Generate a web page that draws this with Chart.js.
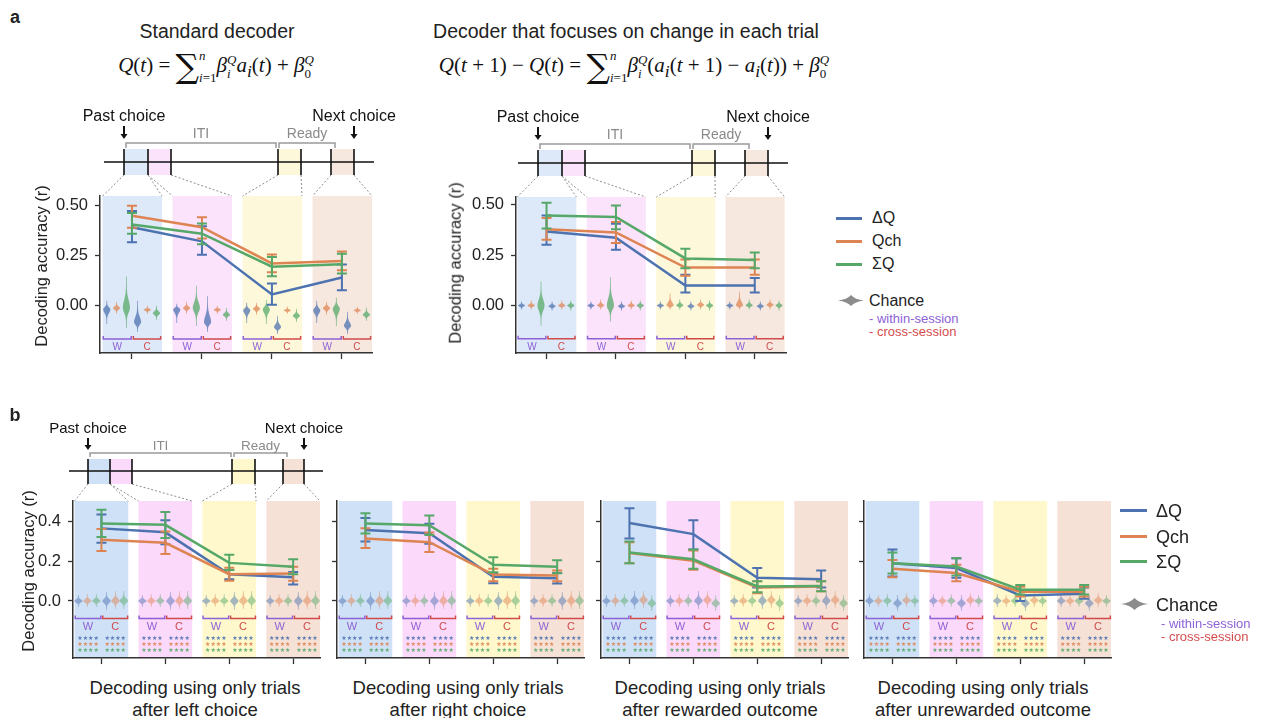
<!DOCTYPE html>
<html>
<head>
<meta charset="utf-8">
<script src="https://cdn.jsdelivr.net/npm/chart.js@4.4.1/dist/chart.umd.min.js"></script>
<style>
body{margin:0;background:#fff;width:1262px;height:718px;position:relative;overflow:hidden;font-family:"Liberation Sans",Arial,sans-serif;color:#222}
canvas{position:absolute}
.t{position:absolute;white-space:nowrap;line-height:1;transform:translate(-50%,-50%)}
.l{position:absolute;white-space:nowrap;line-height:1;transform:translate(0,-50%)}
.yt{position:absolute;white-space:nowrap;line-height:1;font-size:16.5px;transform:translate(-50%,-50%) rotate(-90deg)}
.eq{position:absolute;white-space:nowrap;transform:translate(-50%,-50%);font-family:"Liberation Serif","DejaVu Serif",serif;font-size:21px;line-height:46px;color:#111}
.eq .sig{font-family:"DejaVu Serif",serif;font-size:33px;vertical-align:-6px;font-style:normal}
.eq .lim{display:inline-block;vertical-align:middle;font-size:13px;line-height:22px;text-align:left}
.eq .ss{display:inline-block;vertical-align:middle;font-size:13px;line-height:14px;text-align:left}
.eq .lim span,.eq .ss span{display:block}
.ll{position:absolute;height:3px}
</style>
</head>
<body>
<canvas id="cStd" width="400" height="270" style="left:0;top:100px"></canvas>
<canvas id="cChg" width="400" height="270" style="left:420px;top:100px"></canvas>
<canvas id="cLeft" width="345" height="275" style="left:0;top:400px"></canvas>
<canvas id="cRight" width="262" height="275" style="left:330px;top:400px"></canvas>
<canvas id="cRew" width="262" height="275" style="left:594px;top:400px"></canvas>
<canvas id="cUnr" width="262" height="275" style="left:857px;top:400px"></canvas>

<div class="t" style="left:15px;top:17px;font-weight:bold;font-size:18px">a</div>
<div class="t" style="left:15px;top:415px;font-weight:bold;font-size:18px">b</div>
<div class="t" style="left:217px;top:32px;font-size:19.5px">Standard decoder</div>
<div class="t" style="left:626px;top:32px;font-size:19.5px">Decoder that focuses on change in each trial</div>

<div class="eq" style="left:216px;top:68px"><i>Q</i>(<i>t</i>) = <span class="sig">∑</span><span class="lim"><span><i>n</i></span><span><i>i</i>=1</span></span><i>β</i><span class="ss"><span><i>Q</i></span><span><i>i</i></span></span><i>a<sub>i</sub></i>(<i>t</i>) + <i>β</i><span class="ss"><span><i>Q</i></span><span>0</span></span></div>
<div class="eq" style="left:634px;top:68px"><i>Q</i>(<i>t</i> + 1) − <i>Q</i>(<i>t</i>) = <span class="sig">∑</span><span class="lim"><span><i>n</i></span><span><i>i</i>=1</span></span><i>β</i><span class="ss"><span><i>Q</i></span><span><i>i</i></span></span>(<i>a<sub>i</sub></i>(<i>t</i> + 1) − <i>a<sub>i</sub></i>(<i>t</i>)) + <i>β</i><span class="ss"><span><i>Q</i></span><span>0</span></span></div>

<div class="yt" style="left:41px;top:266px">Decoding accuracy (r)</div>
<div class="yt" style="left:455px;top:263px">Decoding accuracy (r)</div>
<div class="yt" style="left:28px;top:571px">Decoding accuracy (r)</div>

<div class="t" style="left:195px;top:688px;font-size:18.5px">Decoding using only trials</div>
<div class="t" style="left:195px;top:710px;font-size:18.5px">after left choice</div>
<div class="t" style="left:458px;top:688px;font-size:18.5px">Decoding using only trials</div>
<div class="t" style="left:458px;top:710px;font-size:18.5px">after right choice</div>
<div class="t" style="left:720px;top:688px;font-size:18.5px">Decoding using only trials</div>
<div class="t" style="left:720px;top:710px;font-size:18.5px">after rewarded outcome</div>
<div class="t" style="left:983px;top:688px;font-size:18.5px">Decoding using only trials</div>
<div class="t" style="left:983px;top:710px;font-size:18.5px">after unrewarded outcome</div>

<!-- legend a -->
<div class="ll" style="left:836px;top:217px;width:26px;background:#4c72b0"></div>
<div class="l" style="left:872px;top:218px;font-size:16px">ΔQ</div>
<div class="ll" style="left:836px;top:240px;width:26px;background:#dd8452"></div>
<div class="l" style="left:872px;top:241px;font-size:16px">Qch</div>
<div class="ll" style="left:836px;top:263px;width:26px;background:#55a868"></div>
<div class="l" style="left:872px;top:264px;font-size:16px">ΣQ</div>
<svg style="position:absolute;left:838px;top:295px" width="26" height="11"><path d="M0,5.5 Q9,4.5 13,0 Q17,4.5 26,5.5 Q17,6.5 13,11 Q9,6.5 0,5.5Z" fill="#8c8c8c"/></svg>
<div class="l" style="left:869px;top:301px;font-size:16px">Chance</div>
<div class="l" style="left:869px;top:318px;font-size:13px;color:#8d62d6">- within-session</div>
<div class="l" style="left:869px;top:331px;font-size:13px;color:#d44c4c">- cross-session</div>

<!-- legend b -->
<div class="ll" style="left:1120px;top:509px;width:27px;background:#4c72b0"></div>
<div class="l" style="left:1156px;top:511px;font-size:18px">ΔQ</div>
<div class="ll" style="left:1120px;top:535px;width:27px;background:#dd8452"></div>
<div class="l" style="left:1156px;top:537px;font-size:18px">Qch</div>
<div class="ll" style="left:1120px;top:560px;width:27px;background:#55a868"></div>
<div class="l" style="left:1156px;top:562px;font-size:18px">ΣQ</div>
<svg style="position:absolute;left:1121px;top:598px" width="27" height="12"><path d="M0,6 Q9,5 13.5,0 Q18,5 27,6 Q18,7 13.5,12 Q9,7 0,6Z" fill="#8c8c8c"/></svg>
<div class="l" style="left:1156px;top:605px;font-size:18px">Chance</div>
<div class="l" style="left:1161px;top:623px;font-size:13px;color:#8d62d6">- within-session</div>
<div class="l" style="left:1161px;top:636px;font-size:13px;color:#d44c4c">- cross-session</div>

<script>
Chart.defaults.font.family = '"Liberation Sans", Arial, sans-serif';

const epochs = ['After past choice', 'ITI', 'Ready', 'Before next choice'];
const series = ['ΔQ', 'Qch', 'ΣQ'];
const colors = ['#4c72b0', '#dd8452', '#55a868'];
const yTicksA = [0, 0.25, 0.5];
const yLabelsA = ['0.00', '0.25', '0.50'];
const yTicksB = [0, 0.2, 0.4];
const yLabelsB = ['0.0', '0.2', '0.4'];

// standard decoder: rows = ΔQ, Qch, ΣQ
const stdMean = [[0.39, 0.32, 0.056, 0.14], [0.447, 0.39, 0.21, 0.222], [0.403, 0.358, 0.194, 0.206]];
const stdLow  = [[0.315, 0.253, 0.005, 0.077], [0.387, 0.334, 0.166, 0.176], [0.358, 0.305, 0.147, 0.16]];
const stdHigh = [[0.47, 0.395, 0.11, 0.205], [0.497, 0.44, 0.255, 0.27], [0.46, 0.408, 0.242, 0.258]];

// decoder on change in each trial
const chgMean = [[0.368, 0.337, 0.10, 0.10], [0.379, 0.363, 0.189, 0.189], [0.447, 0.44, 0.234, 0.226]];
const chgLow  = [[0.302, 0.277, 0.065, 0.065], [0.327, 0.311, 0.148, 0.153], [0.382, 0.379, 0.185, 0.185]];
const chgHigh = [[0.447, 0.406, 0.153, 0.137], [0.435, 0.415, 0.229, 0.229], [0.511, 0.497, 0.282, 0.263]];

// b: trials after left choice
const leftMean = [[0.366, 0.346, 0.135, 0.119], [0.309, 0.293, 0.135, 0.138], [0.39, 0.384, 0.192, 0.172]];
const leftLow  = [[0.294, 0.286, 0.11, 0.083], [0.252, 0.237, 0.102, 0.102], [0.322, 0.317, 0.156, 0.135]];
const leftHigh = [[0.436, 0.407, 0.156, 0.146], [0.363, 0.35, 0.167, 0.172], [0.46, 0.449, 0.233, 0.21]];

// b: after right choice
const rightMean = [[0.358, 0.341, 0.122, 0.114], [0.315, 0.296, 0.133, 0.128], [0.39, 0.382, 0.182, 0.172]];
const rightLow  = [[0.30, 0.288, 0.089, 0.088], [0.267, 0.247, 0.10, 0.10], [0.34, 0.333, 0.145, 0.14]];
const rightHigh = [[0.418, 0.389, 0.141, 0.141], [0.366, 0.345, 0.163, 0.153], [0.442, 0.431, 0.22, 0.205]];

// b: after rewarded outcome
const rewMean = [[0.393, 0.337, 0.117, 0.109], [0.242, 0.203, 0.068, 0.073], [0.244, 0.21, 0.073, 0.075]];
const rewLow  = [[0.315, 0.26, 0.068, 0.068], [0.19, 0.158, 0.039, 0.049], [0.19, 0.163, 0.044, 0.049]];
const rewHigh = [[0.467, 0.407, 0.166, 0.153], [0.296, 0.255, 0.10, 0.10], [0.30, 0.26, 0.10, 0.10]];

// b: after unrewarded outcome
const unrMean = [[0.19, 0.166, 0.028, 0.036], [0.163, 0.141, 0.047, 0.047], [0.19, 0.174, 0.057, 0.057]];
const unrLow  = [[0.124, 0.117, 0.0, 0.011], [0.12, 0.10, 0.023, 0.023], [0.138, 0.128, 0.033, 0.033]];
const unrHigh = [[0.26, 0.215, 0.055, 0.068], [0.207, 0.182, 0.072, 0.072], [0.244, 0.215, 0.08, 0.081]];

// chance distributions [centre, low, high]: W-ΔQ, W-Qch, W-ΣQ, C-ΔQ, C-Qch, C-ΣQ per epoch
const stdViolins = [
  [[-0.018, -0.09, 0.025], [-0.012, -0.04, 0.02], [-0.01, -0.11, 0.145], [-0.082, -0.13, 0.025], [-0.02, -0.04, 0.0], [-0.037, -0.07, 0.0]],
  [[-0.018, -0.085, 0.01], [-0.012, -0.04, 0.02], [-0.01, -0.1, 0.1], [-0.082, -0.13, 0.047], [-0.02, -0.04, 0.0], [-0.045, -0.075, -0.01]],
  [[-0.023, -0.085, 0.015], [-0.015, -0.045, 0.015], [-0.018, -0.09, 0.03], [-0.107, -0.14, -0.05], [-0.023, -0.04, -0.005], [-0.05, -0.08, -0.015]],
  [[-0.023, -0.085, 0.025], [-0.012, -0.045, 0.02], [-0.015, -0.1, 0.04], [-0.1, -0.14, -0.03], [-0.023, -0.04, -0.005], [-0.045, -0.075, -0.01]]
];
const chgViolins = [
  [[0, -0.02, 0.02], [0, -0.02, 0.025], [0, -0.1, 0.12], [-0.003, -0.025, 0.02], [0, -0.02, 0.025], [0, -0.025, 0.025]],
  [[0, -0.02, 0.02], [0, -0.02, 0.03], [0, -0.08, 0.14], [-0.003, -0.025, 0.02], [0, -0.02, 0.025], [0, -0.025, 0.025]],
  [[0, -0.02, 0.02], [0, -0.02, 0.06], [0, -0.02, 0.03], [-0.003, -0.025, 0.02], [0.003, -0.02, 0.03], [0, -0.025, 0.025]],
  [[0, -0.02, 0.02], [0, -0.02, 0.07], [0, -0.02, 0.03], [-0.003, -0.025, 0.02], [0.003, -0.02, 0.03], [0, -0.025, 0.025]]
];
const bGroup = [[0, -0.03, 0.03], [0, -0.03, 0.035], [0, -0.03, 0.035], [0, -0.045, 0.045], [0, -0.04, 0.05], [0, -0.04, 0.05]];
const rewGroup = [[0, -0.03, 0.03], [0, -0.03, 0.035], [0, -0.03, 0.035], [0, -0.04, 0.05], [0.004, -0.035, 0.05], [-0.012, -0.05, 0.03]];
const unrGroup = [[0, -0.03, 0.035], [0, -0.03, 0.03], [0, -0.03, 0.035], [-0.012, -0.05, 0.03], [0.003, -0.03, 0.04], [0, -0.03, 0.03]];
const leftViolins = [bGroup, bGroup, bGroup, bGroup];
const rightViolins = [bGroup, bGroup, bGroup, bGroup];
const rewViolins = [rewGroup, rewGroup, rewGroup, rewGroup];
const unrViolins = [unrGroup, unrGroup, unrGroup, unrGroup];

const violinOffset = [-0.36, -0.22, -0.08, 0.08, 0.22, 0.35];
const bandsA = ['#dde9f8', '#fbe3fb', '#fdf8d9', '#f7e8df'];
const bandsB = ['#cfe1f6', '#fbd9fb', '#fef8cc', '#f6e1d6'];

const tlA = {dx: 0, lineY: -34, x0: 4, x1: 274, ticks: [24, 48, 71, 178, 201, 231, 254], t0: -47, t1: -21,
  textY: -79, arrow: [-70, -57], iti: [26, 176], ready: [179, 235], brY: -53, leg: 5, grayY: -62, font: 16, gfont: 14};
const tlA2 = Object.assign({}, tlA, {dx: -2});
const tlB = {dx: 0, lineY: -30, x0: -4, x1: 250, ticks: [15, 37, 59, 159, 182, 210, 231], t0: -42, t1: -17,
  textY: -72, arrow: [-63, -51], iti: [17, 158], ready: [161, 214], brY: -48, leg: 4, grayY: -55, font: 15, gfont: 13.5};

function rgba(hex, a) {
  const n = parseInt(hex.slice(1), 16);
  return `rgba(${n >> 16},${(n >> 8) & 255},${n & 255},${a})`;
}

function seg(ctx, x1, y1, x2, y2) {
  ctx.beginPath(); ctx.moveTo(x1, y1); ctx.lineTo(x2, y2); ctx.stroke();
}

function violin(ctx, px, y, v, w) {
  const pc = y.getPixelForValue(v[0]), pl = y.getPixelForValue(v[1]), ph = y.getPixelForValue(v[2]);
  const su = Math.max((pc - ph) / 2.9, 1), sd = Math.max((pl - pc) / 2.9, 1);
  const pts = [];
  const N = 40;
  for (let k = 0; k <= N; k++) {
    const yy = ph + (pl - ph) * k / N;
    const s = yy < pc ? su : sd;
    pts.push([yy, w * Math.exp(-Math.pow((yy - pc) / s, 2)) + 0.35]);
  }
  ctx.beginPath();
  pts.forEach(([yy, hw]) => ctx.lineTo(px + hw, yy));
  for (let k = pts.length - 1; k >= 0; k--) ctx.lineTo(px - pts[k][1], pts[k][0]);
  ctx.closePath();
  ctx.fill();
}

function drawTimeline(ctx, a, x, cfg) {
  const g = cfg.tl;
  const X = v => a.left + g.dx + v, Y = v => a.top + v;
  const pairs = [[0, 1], [1, 2], [3, 4], [5, 6]];
  pairs.forEach(([p, q], i) => {
    ctx.fillStyle = cfg.bands[i];
    ctx.fillRect(X(g.ticks[p]), Y(g.t0), g.ticks[q] - g.ticks[p], g.t1 - g.t0);
  });
  ctx.strokeStyle = '#8c8c8c'; ctx.lineWidth = 1; ctx.setLineDash([2, 2]);
  pairs.forEach(([p, q], i) => {
    seg(ctx, X(g.ticks[p]), Y(g.t1), x.getPixelForValue(i - cfg.half[0]), a.top);
    seg(ctx, X(g.ticks[q]), Y(g.t1), Math.min(x.getPixelForValue(i + cfg.half[1]), a.right), a.top);
  });
  ctx.setLineDash([]);
  ctx.strokeStyle = '#111'; ctx.lineWidth = 1.6;
  seg(ctx, X(g.x0), Y(g.lineY), X(g.x1), Y(g.lineY));
  g.ticks.forEach(t => seg(ctx, X(t), Y(g.t0), X(t), Y(g.t1)));
  ctx.strokeStyle = '#9a9a9a'; ctx.lineWidth = 1.5;
  [g.iti, g.ready].forEach(([u, v]) => {
    ctx.beginPath();
    ctx.moveTo(X(u), Y(g.brY + g.leg)); ctx.lineTo(X(u), Y(g.brY));
    ctx.lineTo(X(v), Y(g.brY)); ctx.lineTo(X(v), Y(g.brY + g.leg));
    ctx.stroke();
  });
  ctx.textAlign = 'center'; ctx.textBaseline = 'middle';
  ctx.fillStyle = '#8a8a8a'; ctx.font = `${g.gfont}px "Liberation Sans"`;
  ctx.fillText('ITI', X((g.iti[0] + g.iti[1]) / 2), Y(g.grayY));
  ctx.fillText('Ready', X((g.ready[0] + g.ready[1]) / 2), Y(g.grayY));
  ctx.fillStyle = '#111'; ctx.font = `${g.font}px "Liberation Sans"`;
  ctx.fillText('Past choice', X(g.ticks[0]), Y(g.textY));
  ctx.fillText('Next choice', X(g.ticks[6]), Y(g.textY));
  [g.ticks[0], g.ticks[6]].forEach(t => {
    ctx.strokeStyle = '#111'; ctx.lineWidth = 2;
    seg(ctx, X(t), Y(g.arrow[0]), X(t), Y(g.arrow[1]) - 4);
    ctx.beginPath();
    ctx.moveTo(X(t) - 3.5, Y(g.arrow[1]) - 5); ctx.lineTo(X(t) + 3.5, Y(g.arrow[1]) - 5); ctx.lineTo(X(t), Y(g.arrow[1]));
    ctx.closePath(); ctx.fill();
  });
}

function makeDecor(cfg) {
  return {
    id: 'decor',
    beforeDraw(chart) {
      const {ctx, chartArea: a} = chart, x = chart.scales.x;
      ctx.save();
      cfg.bands.forEach((c, i) => {
        const l = x.getPixelForValue(i - cfg.half[0]);
        const r = Math.min(x.getPixelForValue(i + cfg.half[1]), a.right);
        ctx.fillStyle = c;
        ctx.fillRect(l, a.top, r - l, a.bottom - a.top);
      });
      if (cfg.tl) drawTimeline(ctx, a, x, cfg);
      ctx.restore();
    },
    beforeDatasetsDraw(chart) {
      const ctx = chart.ctx, x = chart.scales.x, y = chart.scales.y;
      const px = v => x.getPixelForValue(v), py = v => y.getPixelForValue(v);
      ctx.save();
      cfg.violins.forEach((grp, i) => grp.forEach((v, j) => {
        ctx.fillStyle = rgba(colors[j % 3], cfg.valpha);
        violin(ctx, px(i + violinOffset[j]), y, v, cfg.vw);
      }));
      ctx.lineWidth = 1.5; ctx.textAlign = 'center'; ctx.textBaseline = 'middle';
      ctx.font = `${cfg.wcFont}px "Liberation Sans"`;
      epochs.forEach((e, i) => {
        [[i - 0.41, i - 0.01, '#8d62d6', 'W', i - 0.21], [i + 0.02, i + 0.41, '#d04a4a', 'C', i + 0.215]].forEach(([u, v, c, t, m]) => {
          const yb = py(cfg.brY);
          ctx.strokeStyle = c; ctx.fillStyle = c;
          ctx.beginPath();
          ctx.moveTo(px(u), yb - 3); ctx.lineTo(px(u), yb); ctx.lineTo(px(v), yb); ctx.lineTo(px(v), yb - 3);
          ctx.stroke();
          ctx.fillText(t, px(m), py(cfg.lblY));
          if (cfg.stars) {
            ctx.font = '6px "DejaVu Sans"';
            cfg.stars.forEach((sv, k) => {
              ctx.fillStyle = rgba(colors[k], 0.9);
              ctx.fillText('★★★★', px(m), py(sv));
            });
            ctx.font = `${cfg.wcFont}px "Liberation Sans"`;
          }
        });
      });
      ctx.restore();
    },
    afterDatasetDraw(chart, args) {
      const k = args.index, ctx = chart.ctx, x = chart.scales.x, y = chart.scales.y;
      ctx.save();
      ctx.strokeStyle = colors[k]; ctx.lineWidth = 2;
      cfg.low[k].forEach((lo, i) => {
        const p = x.getPixelForValue(i), p1 = y.getPixelForValue(lo), p2 = y.getPixelForValue(cfg.high[k][i]);
        ctx.beginPath();
        ctx.moveTo(p, p1); ctx.lineTo(p, p2);
        ctx.moveTo(p - cfg.cap, p1); ctx.lineTo(p + cfg.cap, p1);
        ctx.moveTo(p - cfg.cap, p2); ctx.lineTo(p + cfg.cap, p2);
        ctx.stroke();
      });
      ctx.restore();
    }
  };
}

function makeChart(id, c) {
  return new Chart(document.getElementById(id), {
    type: 'line',
    data: {
      labels: epochs,
      datasets: series.map((s, k) => ({
        label: s,
        data: c.mean[k].map((v, i) => ({x: i, y: v})),
        borderColor: colors[k],
        backgroundColor: colors[k],
        borderWidth: 2.5,
        pointRadius: 0,
        order: 3 - k
      }))
    },
    options: {
      responsive: false,
      animation: false,
      events: [],
      layout: {padding: {top: c.pad[0], right: c.pad[1], bottom: 0, left: 0}},
      plugins: {legend: {display: false}, tooltip: {enabled: false}},
      scales: {
        x: {
          type: 'linear', min: c.xr[0], max: c.xr[1],
          afterBuildTicks: s => { s.ticks = epochs.map((e, i) => ({value: i})); },
          ticks: {callback: () => ''},
          grid: {drawOnChartArea: false, tickLength: 6, tickColor: '#333', tickWidth: 1.3},
          border: {color: '#333', width: 1.5},
          afterFit: s => { s.height = c.xh; }
        },
        y: {
          type: 'linear', min: c.yr[0], max: c.yr[1],
          afterBuildTicks: s => { s.ticks = c.yt.map(v => ({value: v})); },
          ticks: {callback: (v, i) => c.yl ? c.yl[i] : '', font: {size: 16.5}, color: '#222', padding: 7},
          grid: {drawOnChartArea: false, tickLength: 5, tickColor: '#333', tickWidth: 1.3},
          border: {color: '#333', width: 1.5},
          afterFit: s => { s.width = c.yw; }
        }
      }
    },
    plugins: [makeDecor(c)]
  });
}

const aBase = {bands: bandsA, half: [0.42, 0.43], valpha: 0.75, vw: 3.2, brY: -0.165, lblY: -0.205, wcFont: 10, cap: 5, xh: 13, yt: yTicksA, yl: yLabelsA};
const bBase = {bands: bandsB, half: [0.42, 0.42], valpha: 0.5, vw: 3.8, brY: -0.088, lblY: -0.129, wcFont: 11, cap: 5,
  stars: [-0.187, -0.218, -0.247], xh: 12, pad: [101, 8], xr: [-0.445, 3.42], yr: [-0.288, 0.504], yt: yTicksB, yw: 7};

makeChart('cStd', Object.assign({}, aBase, {mean: stdMean, low: stdLow, high: stdHigh, violins: stdViolins, tl: tlA,
  pad: [96, 28], yw: 100, xr: [-0.457, 3.43], yr: [-0.235, 0.545]}));
makeChart('cChg', Object.assign({}, aBase, {mean: chgMean, low: chgLow, high: chgHigh, violins: chgViolins, tl: tlA2,
  pad: [97, 34], yw: 96, xr: [-0.44, 3.45], yr: [-0.236, 0.539]}));
makeChart('cLeft', Object.assign({}, bBase, {mean: leftMean, low: leftLow, high: leftHigh, violins: leftViolins, tl: tlB,
  pad: [101, 25], yw: 73, yl: yLabelsB}));
makeChart('cRight', Object.assign({}, bBase, {mean: rightMean, low: rightLow, high: rightHigh, violins: rightViolins, yl: null}));
makeChart('cRew', Object.assign({}, bBase, {mean: rewMean, low: rewLow, high: rewHigh, violins: rewViolins, yl: null}));
makeChart('cUnr', Object.assign({}, bBase, {mean: unrMean, low: unrLow, high: unrHigh, violins: unrViolins, yl: null}));
</script>
</body>
</html>
